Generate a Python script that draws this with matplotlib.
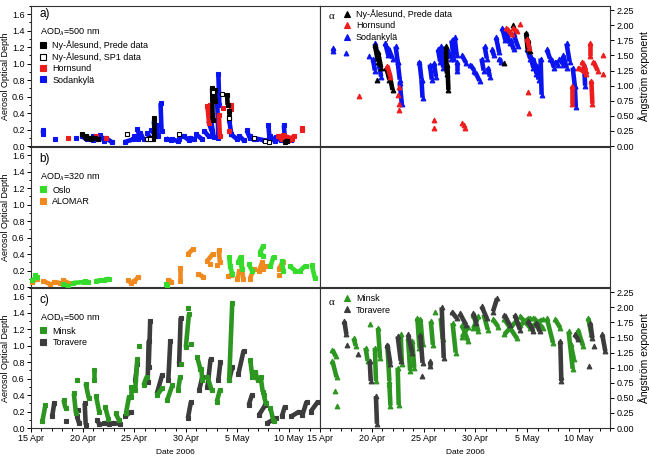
import matplotlib
matplotlib.use("Agg")
import matplotlib.pyplot as plt
from matplotlib.lines import Line2D
from matplotlib.ticker import MultipleLocator, FormatStrFormatter

plt.rcParams['font.family'] = ['Liberation Sans', 'DejaVu Sans']

# x values are days after 15 Apr 2006
# streaks: (day0, value0, day1, value1); single points: (day, value)
tick_days = [0, 5, 10, 15, 20, 25]
tick_labels = ['15 Apr', '20 Apr', '25 Apr', '30 Apr', '5 May', '10 May']

# ---- panel a: AOD 500 nm ----
sod_aod = [(1.15, 0.19, 1.2, 0.14), (2.3, 0.08), (4.4, 0.10), (4.9, 0.12, 5.4, 0.08),
           (5.5, 0.10, 6.0, 0.07), (6.0, 0.12, 6.5, 0.08), (6.7, 0.13, 7.1, 0.06),
           (7.2, 0.10, 7.8, 0.05), (9.1, 0.05, 9.9, 0.08), (10.0, 0.12, 10.4, 0.08),
           (10.3, 0.21, 10.5, 0.12), (10.6, 0.16, 10.9, 0.08), (11.2, 0.16, 11.6, 0.09),
           (11.6, 0.20, 12.1, 0.12), (11.9, 0.30, 12.0, 0.15), (12.2, 0.25, 12.3, 0.12),
           (12.55, 0.52, 12.65, 0.18), (13.1, 0.09, 13.6, 0.07), (13.7, 0.08, 14.2, 0.06),
           (14.3, 0.09, 14.6, 0.12), (14.8, 0.12, 15.3, 0.07), (15.4, 0.10, 15.8, 0.08),
           (16.0, 0.14, 16.6, 0.08), (16.8, 0.18, 17.2, 0.12), (17.2, 0.30, 17.5, 0.18),
           (17.4, 0.35, 17.7, 0.11), (18.15, 0.88, 18.25, 0.50), (18.05, 0.50, 18.15, 0.10),
           (19.2, 0.32, 19.4, 0.15), (19.4, 0.14, 20.0, 0.08), (20.2, 0.12, 20.6, 0.07),
           (20.9, 0.19, 21.2, 0.10), (21.2, 0.12, 21.6, 0.08), (21.8, 0.09, 22.6, 0.07),
           (23.0, 0.26, 23.1, 0.10), (23.2, 0.12, 23.6, 0.06), (23.7, 0.11, 24.2, 0.07),
           (24.5, 0.25, 24.6, 0.08), (24.7, 0.10, 25.2, 0.07)]
nya_prede_aod = [(4.9, 0.15, 5.3, 0.10), (5.3, 0.12, 5.8, 0.08), (5.8, 0.10, 6.5, 0.09),
                 (11.9, 0.34, 11.9, 0.12), (11.5, 0.10, 11.8, 0.08),
                 (17.55, 0.70, 17.6, 0.32), (17.8, 0.68, 17.85, 0.55),
                 (19.0, 0.62, 19.05, 0.50), (19.2, 0.42, 19.2, 0.35),
                 (24.6, 0.05, 24.8, 0.06)]
nya_sp1_aod = [(9.3, 0.14), (11.2, 0.08), (11.5, 0.08), (14.3, 0.15), (17.6, 0.66),
               (18.5, 0.63), (19.2, 0.34), (21.6, 0.10), (22.7, 0.06), (23.1, 0.05)]
horn_aod = [(3.6, 0.10), (6.3, 0.12), (7.3, 0.10), (17.1, 0.48, 17.25, 0.28),
            (17.3, 0.50, 17.5, 0.38), (18.2, 0.38, 18.3, 0.12), (18.6, 0.46),
            (19.4, 0.50, 19.4, 0.45), (19.2, 0.18), (23.9, 0.12, 24.3, 0.08),
            (24.4, 0.13, 25.3, 0.09), (25.0, 0.07, 25.5, 0.12), (26.3, 0.22, 26.3, 0.19)]

# ---- panel a (right): Angstrom exponent ----
sod_alpha = [(1.3, 1.63, 1.3, 1.57), (2.5, 1.54), (4.75, 1.49), (5.1, 1.45, 5.3, 1.25),
             (5.3, 1.70, 5.6, 1.50), (5.7, 1.35, 5.9, 1.15), (6.3, 1.70, 6.6, 1.50),
             (6.6, 1.62, 7.0, 1.45), (7.3, 1.65, 7.5, 1.40), (7.5, 1.40, 7.7, 1.10),
             (7.7, 1.05, 7.9, 0.70), (9.6, 1.40, 9.8, 1.10), (9.8, 1.10, 9.9, 0.80),
             (10.6, 1.35, 10.8, 1.10), (11.0, 1.37, 11.2, 1.15), (11.4, 1.60, 11.6, 1.40),
             (11.7, 1.65, 11.9, 1.30), (12.3, 1.60, 12.6, 1.45), (12.7, 1.75, 12.9, 1.45),
             (13.0, 1.80, 13.2, 1.50), (13.2, 1.40, 13.2, 1.25), (13.7, 1.50, 14.1, 1.38),
             (14.5, 1.35, 14.9, 1.25), (15.0, 1.22, 15.4, 1.08), (15.6, 1.45, 15.8, 1.25),
             (15.9, 1.65, 16.1, 1.45), (16.2, 1.30, 16.4, 1.15), (16.6, 1.60, 16.8, 1.50),
             (17.0, 1.80, 17.3, 1.55), (17.3, 1.45, 17.5, 1.40), (17.6, 1.95, 17.9, 1.75),
             (18.0, 1.90, 18.3, 1.70), (18.4, 1.75, 18.7, 1.60), (18.7, 1.85, 19.1, 1.65),
             (20.0, 1.60, 20.3, 1.45), (20.3, 1.50, 20.6, 1.30), (20.6, 1.45, 20.9, 1.20),
             (20.9, 1.35, 21.1, 1.10), (21.3, 1.45, 21.4, 0.85), (21.9, 1.60, 22.2, 1.45),
             (22.3, 1.45, 22.6, 1.30), (22.7, 1.40, 23.0, 1.35), (23.1, 1.45, 23.5, 1.35),
             (23.5, 1.50, 23.8, 1.30), (23.8, 1.70, 24.1, 1.40), (24.4, 1.30, 24.6, 1.00),
             (24.6, 1.00, 24.7, 0.65), (25.5, 1.35, 25.6, 1.00)]
nya_alpha = [(5.3, 1.67, 5.6, 1.40), (5.6, 1.55, 5.9, 1.30), (5.5, 1.10),
             (6.4, 1.30, 6.7, 1.10), (6.7, 1.20, 7.0, 0.93), (12.15, 1.65, 12.25, 1.20),
             (12.3, 1.35, 12.4, 0.93), (17.8, 1.38), (18.6, 2.00),
             (19.9, 1.88, 20.05, 1.60), (20.1, 1.75, 20.25, 1.57)]
horn_alpha = [(3.8, 0.83), (6.5, 1.33, 6.8, 1.15), (7.6, 0.98), (7.5, 0.85), (7.6, 0.70),
              (7.6, 0.60), (11.0, 0.43), (11.0, 0.30), (13.7, 0.38), (13.9, 0.35),
              (14.0, 0.30), (18.0, 1.95, 18.5, 1.85), (18.6, 1.95, 19.0, 1.90),
              (19.3, 2.03), (20.0, 1.78, 20.2, 1.62), (20.1, 0.90), (20.2, 0.55),
              (24.3, 1.00, 24.3, 0.70), (24.9, 1.30, 25.7, 1.20), (25.3, 1.40, 25.7, 1.25),
              (26.1, 1.71, 26.1, 1.49), (26.2, 1.08, 26.3, 0.70), (26.4, 1.40, 26.8, 1.25),
              (27.3, 1.50), (27.3, 1.20)]

# ---- panel b: AOD 320 nm ----
oslo_aod = [(0.1, 0.08, 0.6, 0.12), (0.4, 0.15), (3.1, 0.04, 3.6, 0.01),
            (4.1, 0.05, 5.1, 0.06), (5.2, 0.07, 5.5, 0.06), (6.3, 0.07, 6.7, 0.08),
            (7.1, 0.09, 7.6, 0.10), (13.1, 0.04, 13.2, 0.01), (19.2, 0.37, 19.3, 0.25),
            (19.3, 0.25, 19.5, 0.16), (20.1, 0.30, 20.3, 0.37), (20.3, 0.30, 20.45, 0.22),
            (21.1, 0.28, 21.4, 0.20), (22.2, 0.42, 22.5, 0.50), (22.2, 0.40, 22.5, 0.38),
            (23.2, 0.25, 23.5, 0.37), (24.3, 0.31, 24.45, 0.20), (25.1, 0.25, 25.6, 0.20),
            (26.1, 0.20, 26.6, 0.26), (27.2, 0.27, 27.5, 0.11)]
alomar_aod = [(0.1, 0.06, 0.6, 0.10), (1.2, 0.07, 1.8, 0.04), (2.2, 0.06, 2.8, 0.05),
              (3.1, 0.08, 3.6, 0.05), (5.5, 0.06), (9.4, 0.08, 9.7, 0.05),
              (10.0, 0.07, 10.4, 0.12), (13.3, 0.09, 13.6, 0.06), (14.4, 0.23, 14.4, 0.07),
              (15.2, 0.40, 15.7, 0.46), (16.2, 0.16, 16.7, 0.12), (17.1, 0.32, 17.6, 0.40),
              (17.3, 0.28), (18.2, 0.45, 18.3, 0.30), (18.0, 0.27), (19.1, 0.13, 19.4, 0.14),
              (20.0, 0.10, 20.2, 0.20), (20.35, 0.37, 20.55, 0.10), (21.2, 0.10, 21.6, 0.22),
              (22.1, 0.20, 22.4, 0.30), (22.5, 0.22, 22.8, 0.26), (24.0, 0.22, 24.4, 0.30),
              (24.0, 0.15)]

# ---- panel c: AOD 500 nm ----
minsk_aod = [(1.1, 0.08, 1.4, 0.28), (3.15, 0.34, 3.35, 0.24), (4.15, 0.42, 4.35, 0.18),
             (4.5, 0.58), (5.3, 0.54, 5.6, 0.36), (6.1, 0.70, 6.1, 0.58),
             (6.3, 0.39, 6.6, 0.20), (7.2, 0.25, 7.5, 0.11), (8.2, 0.18, 8.5, 0.10),
             (9.2, 0.18, 9.5, 0.38), (9.7, 0.38, 9.7, 0.50), (10.1, 0.46, 10.3, 0.84),
             (10.5, 1.00), (10.9, 0.52, 11.2, 0.62), (12.2, 0.40, 12.7, 0.48),
             (13.2, 0.34, 13.7, 0.52), (14.25, 0.46, 14.45, 0.62), (14.5, 0.78),
             (15.0, 0.98, 15.3, 1.38), (15.2, 1.46), (15.5, 1.02),
             (16.1, 0.86, 16.4, 0.72), (16.5, 0.72, 16.6, 0.58), (17.1, 0.62, 17.5, 0.46),
             (18.0, 0.32, 18.3, 0.46), (19.2, 0.58, 19.5, 1.52), (21.25, 0.82, 21.45, 0.62),
             (21.75, 0.68, 21.95, 0.58), (22.25, 0.62, 22.45, 0.44), (22.55, 0.40, 22.75, 0.30),
             (23.2, 0.24, 23.5, 0.08)]
toravere_aod = [(2.05, 0.14, 2.25, 0.30), (3.4, 0.08), (4.45, 0.14, 4.65, 0.06), (4.6, 0.22),
                (5.2, 0.30, 5.3, 0.04), (6.4, 0.10, 6.6, 0.05), (7.1, 0.06, 7.6, 0.05),
                (7.9, 0.06, 8.6, 0.05), (9.1, 0.14, 9.7, 0.20), (10.1, 0.58, 10.3, 0.78),
                (11.3, 0.56, 11.4, 1.06), (11.4, 0.74, 11.55, 1.30), (12.2, 0.42, 12.7, 0.64),
                (13.3, 0.58, 13.5, 1.06), (14.35, 0.78, 14.5, 1.34), (15.2, 0.12, 15.5, 0.32),
                (16.3, 0.46, 16.6, 0.62), (17.1, 0.50, 17.4, 0.84), (18.15, 0.58, 18.35, 0.80),
                (19.2, 0.58, 19.5, 0.74), (20.1, 0.66, 20.6, 0.94), (21.1, 0.28, 21.4, 0.40),
                (22.1, 0.16, 22.7, 0.28), (22.9, 0.06, 23.7, 0.12), (24.3, 0.14, 24.6, 0.26),
                (25.2, 0.14, 26.0, 0.20), (26.3, 0.16, 26.7, 0.32), (27.1, 0.20, 27.8, 0.32)]

# ---- panel c (right): Angstrom exponent ----
minsk_alpha = [(1.2, 1.30, 1.5, 1.19), (1.2, 1.11, 1.6, 0.84), (1.4, 0.62), (1.6, 0.36),
               (3.25, 1.49, 3.45, 1.36), (4.8, 1.73), (4.4, 1.33, 4.6, 1.11),
               (5.3, 1.33, 5.4, 0.78), (5.6, 1.66, 5.8, 1.16), (6.5, 1.38, 6.7, 0.78),
               (6.7, 0.73, 6.8, 0.37), (7.5, 1.00, 7.6, 0.38), (7.8, 1.55, 7.9, 1.06),
               (8.5, 1.49, 8.7, 0.95), (8.9, 1.45, 9.1, 1.00), (9.4, 1.82, 9.6, 1.33),
               (9.7, 1.80, 9.9, 1.40), (10.7, 1.77, 10.9, 1.38), (11.1, 1.93),
               (11.65, 1.82, 11.85, 1.47), (12.8, 1.74, 13.1, 1.25), (13.7, 1.71, 14.3, 1.44),
               (13.7, 1.50, 14.3, 1.68), (14.8, 1.88, 15.3, 1.60), (14.8, 1.65, 15.3, 1.85),
               (15.8, 1.88, 16.2, 1.63), (16.7, 1.80, 17.2, 1.68), (17.8, 1.80, 19.0, 1.49),
               (17.8, 1.55, 19.0, 1.78), (19.3, 1.85, 20.3, 1.66), (19.3, 1.70, 20.3, 1.83),
               (20.6, 1.83, 21.5, 1.66), (20.6, 1.70, 21.5, 1.80), (21.9, 1.82, 22.5, 1.41),
               (22.7, 1.80, 23.2, 1.66), (24.0, 1.60, 24.4, 0.98), (24.2, 1.40, 24.5, 1.15),
               (24.9, 1.63, 25.4, 1.36), (25.9, 1.82, 26.2, 1.55)]
toravere_alpha = [(2.35, 1.77, 2.55, 1.55), (2.6, 1.38), (3.7, 1.23), (4.8, 1.11, 4.9, 0.78),
                  (5.4, 0.53, 5.5, 0.07), (6.5, 1.38, 6.8, 1.06), (7.5, 1.52, 7.8, 1.11),
                  (8.5, 1.55, 8.9, 1.25), (9.7, 1.54, 9.9, 1.08), (9.8, 0.86),
                  (10.6, 1.11, 10.6, 1.03), (11.75, 2.00, 11.95, 1.16),
                  (12.7, 1.93, 13.2, 1.82), (13.5, 1.90, 14.1, 1.71), (14.8, 1.90, 15.1, 1.74),
                  (15.6, 2.02, 16.1, 1.82), (16.7, 1.93, 17.1, 2.15), (17.8, 1.88, 18.3, 1.71),
                  (18.8, 1.88, 19.3, 1.63), (20.1, 1.77, 20.6, 1.60), (20.9, 1.74, 21.2, 1.60),
                  (23.2, 1.44, 23.3, 0.78), (23.3, 0.84), (24.6, 1.55, 24.9, 1.47),
                  (26.1, 1.74, 26.3, 1.49), (26.0, 1.03), (26.5, 1.36),
                  (27.25, 1.55, 27.55, 1.27)]

BLUE = '#0a14f0'
RED = '#ee1c1c'
BLACK = '#000000'
GREEN_B = '#36dc2c'
ORANGE = '#f08a1e'
GREEN_C = '#2c9620'
GRAY = '#3c3c3c'


def draw(ax, streaks, color, marker, mfc=None, lw=3.3, ms=3.4):
    for s in streaks:
        if len(s) == 2:
            xs, ys = [s[0]], [s[1]]
        else:
            xs, ys = [s[0], s[2]], [s[1], s[3]]
        ax.plot(xs, ys, color=color, lw=lw, marker=marker, ms=ms,
                mfc=mfc if mfc else color, mec=color, mew=0.8,
                solid_capstyle='butt', clip_on=False, zorder=3)


def handle(color, marker, mfc=None):
    return Line2D([], [], ls='none', marker=marker, ms=4, color=color,
                  mfc=mfc if mfc else color, mec=color, mew=0.8)


fig = plt.figure(figsize=(6.49, 4.59), dpi=100)
W, H = 649, 459
lx, rx, aw = 31 / W, 320 / W, 289 / W
ah = 140 / H
rows = [1 - 146 / H, 1 - 287 / H, 1 - 428 / H]

axes = []
for r, b in enumerate(rows):
    axl = fig.add_axes([lx, b, aw, ah])
    axr = fig.add_axes([rx, b, 290 / W, ah])
    axes.append((axl, axr))

for r, (axl, axr) in enumerate(axes):
    for ax in (axl, axr):
        ax.set_xlim(0, 28)
        ax.set_xticks(tick_days)
        ax.xaxis.set_minor_locator(MultipleLocator(1))
        ax.tick_params(axis='both', which='both', direction='out', labelsize=6.5,
                       width=0.7, pad=1.5)
        ax.tick_params(which='major', length=3)
        ax.tick_params(which='minor', length=1.8)
        for sp in ax.spines.values():
            sp.set_linewidth(0.8)
            sp.set_color('#333333')
        if r == 2:
            ax.set_xticklabels(tick_labels)
        else:
            ax.set_xticklabels([])
    axl.set_ylim(0, 1.7)
    axl.yaxis.set_major_locator(MultipleLocator(0.2))
    axl.yaxis.set_minor_locator(MultipleLocator(0.1))
    axl.yaxis.set_major_formatter(FormatStrFormatter('%.1f'))
    axl.set_ylabel('Aerosol Optical Depth', fontsize=6.5, labelpad=1.5)
    axr.set_ylim(0, 2.32)
    if r == 1:
        axr.set_yticks([])
    else:
        axr.yaxis.tick_right()
        axr.yaxis.set_label_position('right')
        axr.yaxis.set_major_locator(MultipleLocator(0.25))
        axr.yaxis.set_major_formatter(FormatStrFormatter('%.2f'))
        axr.set_ylabel('Ångström exponent', fontsize=7.5, labelpad=3)

(a_l, a_r), (b_l, b_r), (c_l, c_r) = axes

# panel a
draw(a_l, sod_aod, BLUE, 's')
draw(a_l, horn_aod, RED, 's')
draw(a_l, nya_prede_aod, BLACK, 's')
draw(a_l, nya_sp1_aod, BLACK, 's', mfc='white', lw=0, ms=3.0)
draw(a_r, sod_alpha, BLUE, '^')
draw(a_r, nya_alpha, BLACK, '^')
draw(a_r, horn_alpha, RED, '^')

# panel b
draw(b_l, alomar_aod, ORANGE, 's')
draw(b_l, oslo_aod, GREEN_B, 's')

# panel c
draw(c_l, toravere_aod, GRAY, 's')
draw(c_l, minsk_aod, GREEN_C, 's')
draw(c_r, minsk_alpha, GREEN_C, '^')
draw(c_r, toravere_alpha, GRAY, '^')

leg_kw = dict(frameon=False, fontsize=6.5, handlelength=0.8, handletextpad=0.6,
              labelspacing=0.25, borderaxespad=0, borderpad=0, title_fontsize=6.5)

a_l.text(0.028, 0.92, 'a)', transform=a_l.transAxes, fontsize=8.5)
lg = a_l.legend([handle(BLACK, 's'), handle(BLACK, 's', 'white'), handle(RED, 's'),
                 handle(BLUE, 's')],
                ['Ny-Ålesund, Prede data', 'Ny-Ålesund, SP1 data', 'Hornsund', 'Sodankylä'],
                loc='upper left', bbox_to_anchor=(0.03, 0.86),
                title='AOD$_\\lambda$=500 nm', **leg_kw)
lg._legend_box.align = 'left'

a_r.text(0.03, 0.955, 'α', transform=a_r.transAxes, fontsize=8,
         family='Liberation Serif', va='top')
a_r.legend([handle(BLACK, '^'), handle(RED, '^'), handle(BLUE, '^')],
           ['Ny-Ålesund, Prede data', 'Hornsund', 'Sodankylä'],
           loc='upper left', bbox_to_anchor=(0.08, 0.975), **leg_kw)

b_l.text(0.028, 0.89, 'b)', transform=b_l.transAxes, fontsize=8.5)
lg = b_l.legend([handle(GREEN_B, 's'), handle(ORANGE, 's')], ['Oslo', 'ALOMAR'],
                loc='upper left', bbox_to_anchor=(0.03, 0.83),
                title='AOD$_\\lambda$=320 nm', **leg_kw)
lg._legend_box.align = 'left'

c_l.text(0.028, 0.89, 'c)', transform=c_l.transAxes, fontsize=8.5)
lg = c_l.legend([handle(GREEN_C, 's'), handle(GRAY, 's')], ['Minsk', 'Toravere'],
                loc='upper left', bbox_to_anchor=(0.03, 0.83),
                title='AOD$_\\lambda$=500 nm', **leg_kw)
lg._legend_box.align = 'left'

c_r.text(0.03, 0.93, 'α', transform=c_r.transAxes, fontsize=8,
         family='Liberation Serif', va='top')
c_r.legend([handle(GREEN_C, '^'), handle(GRAY, '^')], ['Minsk', 'Toravere'],
           loc='upper left', bbox_to_anchor=(0.08, 0.955), **leg_kw)

fig.text(175 / W, 1 - 452 / H, 'Date 2006', fontsize=6, ha='center', va='center')
fig.text(465 / W, 1 - 452 / H, 'Date 2006', fontsize=6, ha='center', va='center')

fig.savefig('out.png', dpi=100)
